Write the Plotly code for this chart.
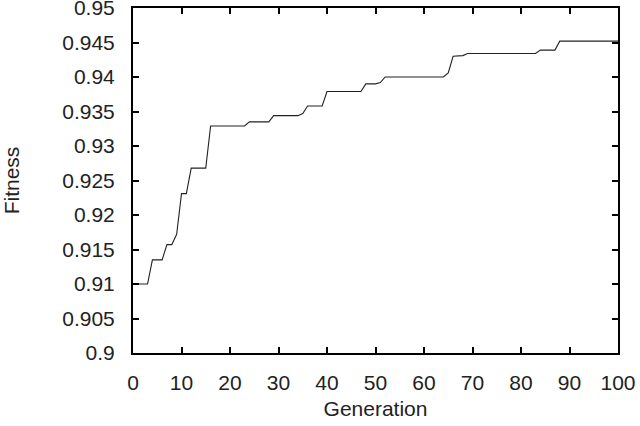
import plotly.graph_objs as go

# generations where the best fitness changes (line is straight between them)
generation = [0, 3, 4, 6, 7, 8, 9, 10, 11, 12, 15, 16, 23, 24, 28, 29, 34, 35, 36,
              39, 40, 47, 48, 50, 51, 52, 64, 65, 66, 68, 69, 83, 84, 87, 88, 100]
fitness = [0.9100, 0.9100, 0.9135, 0.9135, 0.9157, 0.9157, 0.9172, 0.9231, 0.9231,
           0.9268, 0.9268, 0.9329, 0.9329, 0.9335, 0.9335, 0.9344, 0.9344, 0.9347,
           0.9358, 0.9358, 0.9379, 0.9379, 0.9390, 0.9390, 0.9392, 0.9400, 0.9400,
           0.9406, 0.9430, 0.9431, 0.9434, 0.9434, 0.9439, 0.9439, 0.9452, 0.9452]

x_ticks = [0, 10, 20, 30, 40, 50, 60, 70, 80, 90, 100]
y_ticks = [0.9, 0.905, 0.91, 0.915, 0.92, 0.925, 0.93, 0.935, 0.94, 0.945, 0.95]
y_labels = ['0.9', '0.905', '0.91', '0.915', '0.92', '0.925', '0.93', '0.935', '0.94', '0.945', '0.95']

trace = go.Scatter(
    x=generation,
    y=fitness,
    mode='lines',
    line=dict(color='#222222', width=1.1),
    showlegend=False
)

axis_style = dict(
    showline=True,
    linecolor='black',
    linewidth=2,
    mirror='allticks',
    ticks='inside',
    ticklen=6,
    tickwidth=2,
    tickcolor='black',
    showgrid=False,
    zeroline=False,
    automargin=False,
    ticklabeloverflow='allow',
    tickfont=dict(size=21, color='#222222'),
)

layout = go.Layout(
    width=640,
    height=426,
    margin=dict(l=133, r=22, t=8, b=73),
    paper_bgcolor='white',
    plot_bgcolor='white',
    font=dict(family='Liberation Sans, Arial, sans-serif', color='#222222'),
    xaxis=dict(
        axis_style,
        range=[0, 100],
        tickvals=x_ticks,
        ticklabelstandoff=10,
        title=dict(text='Generation', font=dict(size=21), standoff=8),
    ),
    yaxis=dict(
        axis_style,
        range=[0.9, 0.95],
        tickvals=y_ticks,
        ticktext=y_labels,
        ticklabelstandoff=12,
        title=dict(text='Fitness', font=dict(size=21), standoff=38),
    ),
)

fig = go.Figure(data=[trace], layout=layout)
# drop the default page margin so the figure sits at the window corner
fig.write_html('out.html', config={'displayModeBar': False},
               post_script="document.body.style.margin='0';")
